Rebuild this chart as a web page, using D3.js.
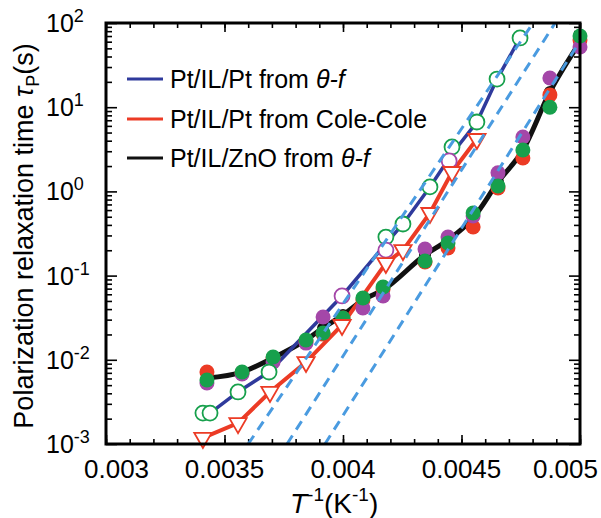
<!DOCTYPE html>
<html>
<head>
<meta charset="utf-8">
<script src="https://cdn.jsdelivr.net/npm/d3@7"></script>
<style>
  body { margin: 0; background: #fff; }
  svg { display: block; font-family: "Liberation Sans", Arial, Helvetica, sans-serif; }
</style>
</head>
<body>
<div id="chart"></div>
<script>
// Pt/IL/Pt from theta-f (open circles + blue line)
const ptThetaX = [0.003409, 0.003439, 0.003557, 0.003688, 0.004181, 0.004253, 0.004367, 0.004460, 0.004565, 0.004650, 0.004747];
const ptThetaY = [2.33e-3, 2.33e-3, 4.15e-3, 7.16e-3, 0.287, 0.41, 1.13, 3.37, 6.67, 21.6, 66.4];
const ptThetaAltX = [0.003996, 0.004181, 0.004448];
const ptThetaAltY = [0.0573, 0.201, 2.30];
const ptLineX = [0.003439, 0.003557, 0.003688, 0.003996, 0.004181, 0.004253, 0.004367, 0.004460, 0.004565, 0.004650, 0.004747];
const ptLineY = [2.33e-3, 4.15e-3, 7.16e-3, 0.0573, 0.24, 0.41, 1.13, 2.8, 6.67, 21.6, 66.4];

// Pt/IL/Pt from Cole-Cole (open triangles + red line)
const coleX = [0.003409, 0.003557, 0.003692, 0.003844, 0.003996, 0.004181, 0.004253, 0.004367, 0.004460, 0.004565];
const coleY = [1.18e-3, 1.77e-3, 4.15e-3, 9.4e-3, 0.0259, 0.141, 0.201, 0.554, 1.70, 4.19];

// Pt/IL/ZnO from theta-f (three filled runs + black line)
const znoX = [0.003426, 0.003574, 0.003705, 0.003844, 0.003916, 0.004000, 0.004084, 0.004169, 0.004346, 0.004443, 0.004549, 0.004654, 0.004759, 0.004873, 0.005000];
const znoRed = [7.16e-3, 6.97e-3, 0.0105, 0.0167, 0.0202, 0.0313, 0.0513, 0.0693, 0.145, 0.213, 0.378, 1.10, 2.49, 14.0, 62.8];
const znoPurple = [5.30e-3, 6.78e-3, 9.41e-3, 0.0158, 0.0322, 0.0297, 0.0412, 0.0573, 0.207, 0.287, 0.510, 1.66, 4.43, 22.2, 51.9];
const znoGreen = [5.75e-3, 7.16e-3, 0.0108, 0.0172, 0.0208, 0.0313, 0.0542, 0.0732, 0.149, 0.244, 0.554, 1.16, 3.10, 10.0, 70.1];
const znoLine = [6.08e-3, 7.16e-3, 0.0105, 0.0172, 0.0239, 0.0340, 0.0513, 0.0675, 0.176, 0.265, 0.483, 1.29, 3.10, 15.2, 59.4];

// dashed fits (end points)
const fitX = [[0.003600, 0.004802], [0.003764, 0.004895], [0.003924, 0.005000]];
const fitY = [[1e-3, 1e2], [1e-3, 1e2], [1e-3, 61]];

const xTicks = [0.003, 0.0035, 0.004, 0.0045, 0.005];
const xTickLabels = ['0.003', '0.0035', '0.004', '0.0045', '0.005'];
const yExps = [-3, -2, -1, 0, 1, 2];
const legendLabels = ['Pt/IL/Pt from ', 'Pt/IL/Pt from Cole-Cole', 'Pt/IL/ZnO from '];

const width = 601, height = 518;
const frame = {left: 106, right: 580, top: 23, bottom: 444};
const colors = {
    blue: '#2f3a9c', red: '#ec3b25', black: '#111',
    green: '#17a04c', purple: '#a447a8', fit: '#4a9be0'
};

const svg = d3.select('#chart').append('svg')
    .attr('width', width)
    .attr('height', height);

const x = d3.scaleLinear().domain([0.003, 0.005]).range([frame.left, frame.right]);
const y = d3.scaleLog().domain([1e-3, 1e2]).range([frame.bottom, frame.top]);

const w = frame.right - frame.left, h = frame.bottom - frame.top;

// ticks (all inward)
const xMinor = d3.range(30, 51).map(d => d / 10000);
const yMinor = [];
yExps.slice(0, -1).forEach(e => { for (let k = 2; k <= 9; k++) yMinor.push(k * Math.pow(10, e)); });
const yMajor = yExps.map(e => Math.pow(10, e));

function addAxis(axis, tr) {
    const g = svg.append('g').attr('transform', tr).call(axis);
    g.select('.domain').remove();
    g.selectAll('line').attr('stroke', '#000').attr('stroke-width', 1.6);
    g.selectAll('text').remove();
}
addAxis(d3.axisBottom(x).tickValues(xMinor).tickSize(-5), `translate(0,${frame.bottom})`);
addAxis(d3.axisBottom(x).tickValues(xTicks).tickSize(-9), `translate(0,${frame.bottom})`);
addAxis(d3.axisTop(x).tickValues(xMinor).tickSize(-5), `translate(0,${frame.top})`);
addAxis(d3.axisTop(x).tickValues(xTicks).tickSize(-9), `translate(0,${frame.top})`);
addAxis(d3.axisLeft(y).tickValues(yMinor).tickSize(-6), `translate(${frame.left},0)`);
addAxis(d3.axisLeft(y).tickValues(yMajor).tickSize(-11), `translate(${frame.left},0)`);
addAxis(d3.axisRight(y).tickValues(yMinor).tickSize(-6), `translate(${frame.right},0)`);
addAxis(d3.axisRight(y).tickValues(yMajor).tickSize(-11), `translate(${frame.right},0)`);

// data lines
const plot = svg.append('g');
function pairs(xs, ys) { return xs.map((d, i) => [d, ys[i]]); }
const line = d3.line().x(d => x(d[0])).y(d => y(d[1]));
const smooth = d3.line().x(d => x(d[0])).y(d => y(d[1])).curve(d3.curveMonotoneX);

plot.append('path').datum(pairs(znoX, znoLine))
    .attr('d', smooth).attr('fill', 'none').attr('stroke', colors.black)
    .attr('stroke-width', 5).attr('stroke-linejoin', 'round');
plot.append('path').datum(pairs(coleX, coleY))
    .attr('d', line).attr('fill', 'none').attr('stroke', colors.red)
    .attr('stroke-width', 4);
plot.append('path').datum(pairs(ptLineX, ptLineY))
    .attr('d', line).attr('fill', 'none').attr('stroke', colors.blue)
    .attr('stroke-width', 3.5);

// filled circles for ZnO
function dots(xs, ys, color, r) {
    plot.append('g').selectAll('circle').data(pairs(xs, ys)).join('circle')
        .attr('cx', d => x(d[0])).attr('cy', d => y(d[1])).attr('r', r)
        .attr('fill', color);
}
dots(znoX, znoLine, colors.black, 6);
dots(znoX, znoRed, colors.red, 7.5);
dots(znoX, znoPurple, colors.purple, 7.5);
dots(znoX, znoGreen, colors.green, 7.5);

// open markers
function rings(xs, ys, color) {
    plot.append('g').selectAll('circle').data(pairs(xs, ys)).join('circle')
        .attr('cx', d => x(d[0])).attr('cy', d => y(d[1])).attr('r', 7.5)
        .attr('fill', '#fff').attr('stroke', color).attr('stroke-width', 1.8);
}
rings(ptThetaX, ptThetaY, colors.green);
rings(ptThetaAltX, ptThetaAltY, colors.purple);

const tri = d3.symbol().type(d3.symbolTriangle).size(130);
plot.append('g').selectAll('path').data(pairs(coleX, coleY)).join('path')
    .attr('d', tri)
    .attr('transform', d => `translate(${x(d[0])},${y(d[1])}) rotate(180)`)
    .attr('fill', '#fff').attr('stroke', colors.red).attr('stroke-width', 1.8);

// dashed fits on top
fitX.forEach((xs, i) => {
    plot.append('path').datum(pairs(xs, fitY[i]))
        .attr('d', line).attr('fill', 'none').attr('stroke', colors.fit)
        .attr('stroke-width', 3).attr('stroke-dasharray', '10,7');
});

// frame
svg.append('rect')
    .attr('x', frame.left).attr('y', frame.top).attr('width', w).attr('height', h)
    .attr('fill', 'none').attr('stroke', '#000').attr('stroke-width', 3);

// x tick labels
svg.append('g').selectAll('text').data(xTicks).join('text')
    .attr('x', (d, i) => i === 0 ? 84 : i === xTicks.length - 1 ? 598 : x(d))
    .attr('y', 478)
    .attr('text-anchor', (d, i) => i === 0 ? 'start' : i === xTicks.length - 1 ? 'end' : 'middle')
    .attr('font-size', 26)
    .text((d, i) => xTickLabels[i]);

// y tick labels
const yl = svg.append('g').selectAll('text').data(yExps).join('text')
    .attr('x', 46).attr('y', d => y(Math.pow(10, d)) + 9)
    .attr('font-size', 25);
yl.append('tspan').text('10');
yl.append('tspan').attr('font-size', 18).attr('dy', -10).text(d => d < 0 ? '-' + (-d) : d);

// axis titles
const xt = svg.append('text').attr('x', 290).attr('y', 513).attr('font-size', 28);
xt.append('tspan').attr('font-style', 'italic').text('T');
xt.append('tspan').attr('font-size', 19).attr('dy', -12).text('-1');
xt.append('tspan').attr('dy', 12).text('(K');
xt.append('tspan').attr('font-size', 19).attr('dy', -12).text('-1');
xt.append('tspan').attr('dy', 12).text(')');

const yt = svg.append('text')
    .attr('transform', 'translate(33,236) rotate(-90)')
    .attr('text-anchor', 'middle').attr('font-size', 27);
yt.append('tspan').text('Polarization relaxation time ');
yt.append('tspan').attr('font-style', 'italic').text('τ');
yt.append('tspan').attr('font-size', 18).attr('dy', 6).text('P');
yt.append('tspan').attr('dy', -6).text('(s)');

// legend
const legendColors = [colors.blue, colors.red, colors.black];
const legendY = [79, 119, 158];
legendLabels.forEach((lab, i) => {
    svg.append('line')
        .attr('x1', 127).attr('x2', 163).attr('y1', legendY[i]).attr('y2', legendY[i])
        .attr('stroke', legendColors[i]).attr('stroke-width', 3);
    const t = svg.append('text').attr('x', 170).attr('y', legendY[i] + 9).attr('font-size', 25).text(lab);
    if (i !== 1) t.append('tspan').attr('font-style', 'italic').text('θ-f');
});
</script>
</body>
</html>
